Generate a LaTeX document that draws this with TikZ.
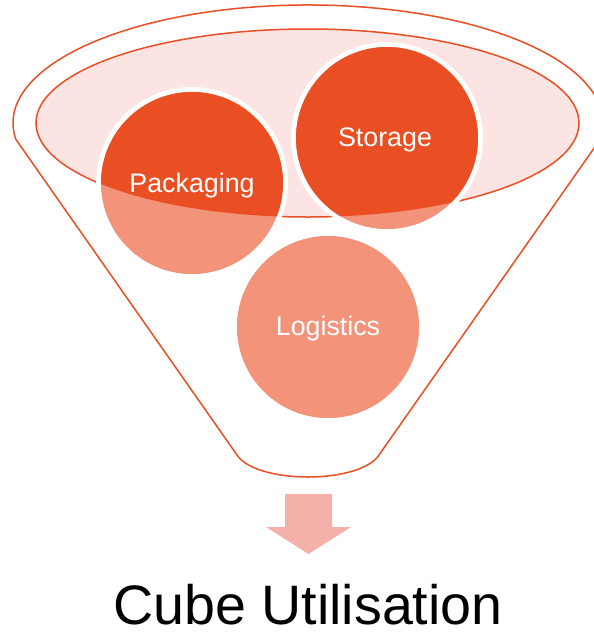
\documentclass[tikz,border=0pt]{standalone}
\usepackage{fontspec}
\setmainfont{Liberation Sans}
\begin{document}
\begin{tikzpicture}[x=1pt,y=-1pt,
  outline/.style={draw=funorange,line width=1.5pt},
  ring/.style={draw=white,line width=5pt},
  lbl/.style={text=white,font=\fontsize{26.8}{30}\selectfont,anchor=base}]
\definecolor{funorange}{RGB}{233,78,36}
\definecolor{darkc}{RGB}{234,79,36}
\definecolor{lightc}{RGB}{242,147,122}
\definecolor{pinkc}{RGB}{251,228,225}
\definecolor{arrowc}{RGB}{244,177,170}
\useasboundingbox (0,0) rectangle (594,632);
% funnel body
\draw[outline,fill=white] (15.9,139.4) arc[start angle=-188,end angle=8,x radius=295,y radius=118]
  -- (379,455) .. controls (370,469) and (340,477) .. (308,477)
  .. controls (276,477) and (246,469) .. (237,455) -- cycle;
% inner rim
\draw[outline,fill=pinkc] (307.5,123) ellipse[x radius=271.5,y radius=94];
% circles
\node[circle,inner sep=0,minimum size=182pt,fill=lightc] (pack) at (192,183) {};
\node[circle,inner sep=0,minimum size=182pt,fill=lightc] (stor) at (387,138) {};
\node[circle,inner sep=0,minimum size=182pt,fill=lightc] (logi) at (328,327) {};
\draw[ring] (pack.center) circle[radius=93.5];
\draw[ring] (stor.center) circle[radius=93.5];
\draw[ring] (logi.center) circle[radius=93.5];
\fill[lightc] (pack.center) circle[radius=91];
\fill[lightc] (stor.center) circle[radius=91];
\fill[lightc] (logi.center) circle[radius=91];
\begin{scope}
\clip (307.5,123) ellipse[x radius=271.5,y radius=94];
\fill[darkc] (pack.center) circle[radius=91];
\fill[darkc] (stor.center) circle[radius=91];
\end{scope}
\node[lbl] (packl) at (192,192) {Packaging};
\node[lbl] (storl) at (385,146) {Storage};
\node[lbl] (logil) at (328,335) {Logistics};
% arrow
\fill[arrowc] (285,494) -- (332,494) -- (332,527) -- (351,527) -- (308.5,554) -- (266,527) -- (285,527) -- cycle;
\node[anchor=base,font=\fontsize{55.6}{60}\selectfont,inner sep=0] (title) at (308,624) {Cube Utilisation};
\end{tikzpicture}
\end{document}
